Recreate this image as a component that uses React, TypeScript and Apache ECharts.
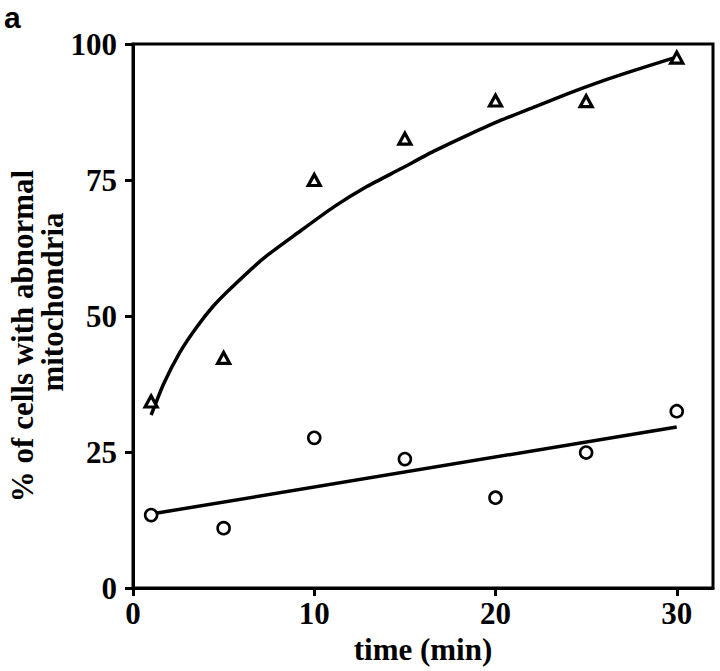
import React, { useEffect, useRef } from "react";
import * as echarts from "echarts";

// Observed data points
const timeMin = [1, 5, 10, 15, 20, 25, 30];
const triangleValues = [34.3, 42.3, 75.0, 82.6, 89.6, 89.5, 97.5];
const circleValues = [13.4, 11.0, 27.6, 23.7, 16.6, 24.9, 32.5];

// Fitted curves
const upperFitX = [1, 1.7, 2.6, 3.5, 4.4, 5.4, 7.2, 9.1, 11.1, 12.9, 14.8, 16.6, 18.5, 20.3, 22.2, 24, 25.8, 27.7, 29.8];
const upperFitY = [31.8, 37.6, 43.4, 47.9, 51.7, 55.1, 60.6, 65.3, 70.1, 73.8, 77.1, 80.3, 83.3, 86.0, 88.5, 90.9, 93.1, 95.2, 97.4];
const lowerFitX = [1, 30];
const lowerFitY = [13.6, 29.6];

const xTicks = [0, 10, 20, 30];
const yTicks = [0, 25, 50, 75, 100];

const FONT = "'Liberation Serif', 'Times New Roman', serif";
const FS = 31;

export default function App() {
  const ref = useRef<HTMLDivElement>(null);
  useEffect(() => {
    if (!ref.current) return;
    const chart = echarts.init(ref.current, null, { renderer: "svg" });
    const pair = (xs: number[], ys: number[]) => xs.map((x, i) => [x, ys[i]]);
    const textStyle = { fill: "#000", fontFamily: FONT, fontWeight: "bold", fontSize: FS };
    chart.setOption({
      animation: false,
      backgroundColor: "#ffffff",
      grid: {
        left: 133,
        right: 7,
        top: 44,
        bottom: 83,
        show: true,
        borderColor: "#000",
        borderWidth: 3,
        backgroundColor: "transparent",
      },
      xAxis: {
        type: "value",
        min: 0,
        max: 32,
        interval: 10,
        splitLine: { show: false },
        axisLine: { show: true, onZero: false, lineStyle: { color: "#000", width: 3 } },
        axisTick: { show: true, length: 8, customValues: xTicks, lineStyle: { color: "#000", width: 3 } },
        axisLabel: {
          customValues: xTicks,
          margin: 10,
          color: "#000",
          fontFamily: FONT,
          fontWeight: "bold",
          fontSize: FS,
        },
        name: "time (min)",
        nameLocation: "middle",
        nameGap: 46,
        nameTextStyle: { color: "#000", fontFamily: FONT, fontWeight: "bold", fontSize: FS, verticalAlign: "top" },
      },
      yAxis: {
        type: "value",
        min: 0,
        max: 100,
        interval: 25,
        splitLine: { show: false },
        axisLine: { show: true, onZero: false, lineStyle: { color: "#000", width: 3 } },
        axisTick: { show: true, length: 8, customValues: yTicks, lineStyle: { color: "#000", width: 3 } },
        axisLabel: {
          customValues: yTicks,
          margin: 16,
          color: "#000",
          fontFamily: FONT,
          fontWeight: "bold",
          fontSize: FS,
        },
      },
      graphic: [
        {
          type: "text",
          x: 4,
          y: 2,
          style: {
            text: "a",
            fill: "#000",
            fontFamily: "'Liberation Sans', Arial, sans-serif",
            fontWeight: "bold",
            fontSize: 30,
          },
        },
        {
          type: "text",
          x: 22,
          y: 336,
          rotation: Math.PI / 2,
          style: { ...textStyle, text: "% of cells with abnormal", align: "center", verticalAlign: "middle" },
        },
        {
          type: "text",
          x: 52,
          y: 302,
          rotation: Math.PI / 2,
          style: { ...textStyle, text: "mitochondria", align: "center", verticalAlign: "middle" },
        },
      ],
      series: [
        {
          type: "line",
          data: pair(upperFitX, upperFitY),
          smooth: 0.2,
          showSymbol: false,
          lineStyle: { color: "#000", width: 3.5, join: "round", cap: "butt" },
          z: 2,
        },
        {
          type: "line",
          data: pair(lowerFitX, lowerFitY),
          showSymbol: false,
          lineStyle: { color: "#000", width: 3.5 },
          z: 2,
        },
        {
          type: "scatter",
          data: pair(timeMin, triangleValues),
          symbol: "triangle",
          symbolSize: [12, 11],
          itemStyle: { color: "#fff", borderColor: "#000", borderWidth: 3.2, opacity: 1 },
          z: 3,
        },
        {
          type: "scatter",
          data: pair(timeMin, circleValues),
          symbol: "circle",
          symbolSize: 12,
          itemStyle: { color: "#fff", borderColor: "#000", borderWidth: 2.6, opacity: 1 },
          z: 3,
        },
      ],
    });
    return () => chart.dispose();
  }, []);
  return (
    <div
      ref={ref}
      style={{ position: "absolute", left: 0, top: 0, width: 720, height: 671, background: "#fff" }}
    />
  );
}
